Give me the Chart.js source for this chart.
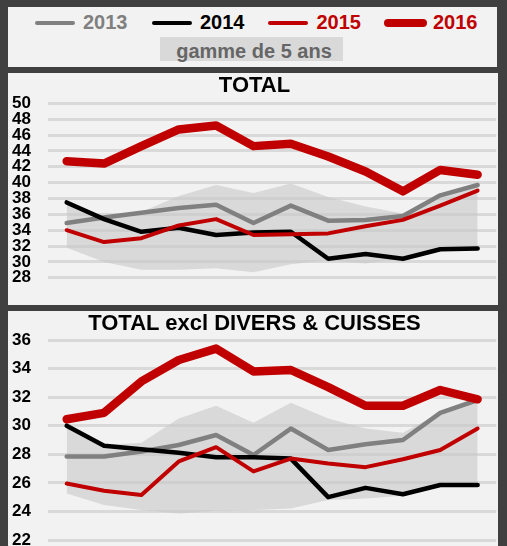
<!DOCTYPE html>
<html>
<head>
<meta charset="utf-8">
<script src="https://cdn.jsdelivr.net/npm/chart.js@4/dist/chart.umd.min.js"></script>
<style>
  html, body { margin:0; padding:0; }
  body { width:507px; height:546px; background:#404040; position:relative; overflow:hidden;
         font-family:"Liberation Sans", Arial, sans-serif; }
  .panel { position:absolute; left:8px; width:490px; background:#f2f2f2; overflow:hidden; }
  .lg-line { position:absolute; }
  .lg-text { position:absolute; font-weight:bold; font-size:20px; line-height:20px; white-space:nowrap; }
  .title { position:absolute; left:0; width:509px; text-align:center; font-weight:bold;
           font-size:22px; line-height:22px; color:#000; white-space:nowrap; }
  canvas { position:absolute; left:0; top:0; }
</style>
</head>
<body>
<div class="panel" id="legendPanel" style="top:7px;height:60px;left:8px;width:489px;"></div>
<div class="panel" style="top:73px;height:232px;"><canvas id="c1" width="490" height="232"></canvas></div>
<div class="panel" style="top:311px;height:260px;"><canvas id="c2" width="490" height="260"></canvas></div>
<div class="title" id="t1" style="top:74.4px;"></div>
<div class="title" id="t2" style="top:312.4px;"></div>
<div id="legend"></div>
<script>
// ---- data ----
const months = ["jan","fév","mar","avr","mai","juin","juil","août","sep","oct","nov","déc"];
const seriesNames = ["2013","2014","2015","2016"];
const rangeLabel = "gamme de 5 ans";
const title1 = "TOTAL";
const title2 = "TOTAL excl DIVERS & CUISSES";

// TOTAL
const total2013 = [34.9, 35.6, 36.2, 36.8, 37.2, 34.9, 37.1, 35.2, 35.3, 35.8, 38.4, 39.7];
const total2014 = [37.5, 35.4, 33.8, 34.3, 33.4, 33.7, 33.8, 30.4, 31.0, 30.4, 31.6, 31.7];
const total2015 = [34.0, 32.5, 33.0, 34.6, 35.4, 33.4, 33.5, 33.6, 34.5, 35.3, 37.1, 39.0];
const total2016 = [42.7, 42.4, 44.6, 46.7, 47.2, 44.6, 44.9, 43.3, 41.4, 38.9, 41.6, 41.0];
const totalRangeHigh = [37.5, 35.6, 36.3, 38.3, 39.7, 38.7, 39.9, 38.2, 37.0, 36.1, 38.4, 39.7];
const totalRangeLow  = [31.8, 30.0, 29.0, 29.0, 29.2, 28.7, 29.7, 30.2, 29.8, 30.4, 31.6, 31.7];
const totalTicks = {min:28, max:50, step:2};

// TOTAL excl DIVERS & CUISSES
const excl2013 = [27.85, 27.85, 28.2, 28.65, 29.35, 27.95, 29.8, 28.3, 28.7, 29.0, 30.9, 31.8];
const excl2014 = [30.0, 28.6, 28.35, 28.1, 27.8, 27.8, 27.7, 25.0, 25.65, 25.2, 25.85, 25.85];
const excl2015 = [25.95, 25.45, 25.15, 27.5, 28.5, 26.8, 27.7, 27.35, 27.1, 27.65, 28.3, 29.8];
const excl2016 = [30.45, 30.9, 33.1, 34.6, 35.4, 33.8, 33.9, 32.7, 31.4, 31.4, 32.5, 31.85];
const exclRangeHigh = [30.05, 28.65, 28.8, 30.5, 31.4, 30.2, 31.6, 30.5, 29.8, 29.5, 30.9, 31.9];
const exclRangeLow  = [25.25, 24.45, 24.1, 23.85, 24.05, 24.1, 24.2, 24.8, 24.9, 25.1, 25.85, 25.85];
const exclTicks = {min:22, max:36, step:2};

// ---- styles ----
const colors = ["#808080", "#000000", "#c00000", "#c00000"];
const widths = [4.5, 4.5, 4, 8.5];
const orders = [4, 3, 2, 1];
const bandColor = "rgba(200,200,200,0.6)";

document.getElementById('t1').textContent = title1;
document.getElementById('t2').textContent = title2;

// ---- legend (HTML) ----
const legend = document.getElementById('legend');
const lgPos = [
  {lx:35, lw:40, tx:83},
  {lx:152, lw:40, tx:200},
  {lx:268, lw:40, tx:316.5},
  {lx:384, lw:43, tx:433}
];
seriesNames.forEach((n, i) => {
  const l = document.createElement('div');
  l.className = 'lg-line';
  const h = i === 3 ? 8 : 4;
  l.style.cssText = `left:${lgPos[i].lx}px;top:${22.7 - h/2}px;width:${lgPos[i].lw}px;height:${h}px;border-radius:${h/2}px;background:${colors[i]};`;
  legend.appendChild(l);
  const t = document.createElement('div');
  t.className = 'lg-text';
  t.style.cssText = `left:${lgPos[i].tx}px;top:12.4px;color:${colors[i]};`;
  t.textContent = n;
  legend.appendChild(t);
});
const box = document.createElement('div');
box.style.cssText = "position:absolute;left:160px;top:37px;width:183px;height:24px;background:#d9d9d9;";
legend.appendChild(box);
const bt = document.createElement('div');
bt.className = 'lg-text';
bt.style.cssText = "left:160px;width:188px;text-align:center;top:40.5px;color:#666666;";
bt.textContent = rangeLabel;
legend.appendChild(bt);

// ---- charts ----
function makeChart(id, series, high, low, ticks, pad) {
  const datasets = series.map((d, i) => ({
    label: seriesNames[i], data: d,
    borderColor: colors[i], backgroundColor: colors[i],
    borderWidth: widths[i], pointRadius: 0, tension: 0, fill: false,
    borderCapStyle: 'round', borderJoinStyle: 'round', order: orders[i]
  }));
  datasets.push({ label: rangeLabel + ' max', data: high, borderWidth: 0, borderColor: 'rgba(0,0,0,0)',
    pointRadius: 0, backgroundColor: bandColor, fill: '+1', order: 10, tension: 0 });
  datasets.push({ label: rangeLabel + ' min', data: low, borderWidth: 0, borderColor: 'rgba(0,0,0,0)',
    pointRadius: 0, backgroundColor: bandColor, fill: false, order: 11, tension: 0 });
  return new Chart(document.getElementById(id), {
    type: 'line',
    data: { labels: months, datasets },
    options: {
      responsive: false, animation: false, devicePixelRatio: 1,
      layout: { padding: { top: pad.top, bottom: pad.bottom, left: 0, right: 1.7 } },
      plugins: { legend: { display: false }, tooltip: { enabled: false }, title: { display: false } },
      scales: {
        x: { type: 'category', offset: true, display: false },
        y: {
          min: ticks.min, max: ticks.max,
          afterFit: (s) => { s.width = 40; },
          border: { display: false },
          grid: { color: '#d9d9d9', lineWidth: 3, drawTicks: false },
          ticks: { stepSize: ticks.step, autoSkip: false, padding: 17, color: '#000',
                   font: { family: '"Liberation Sans", Arial, sans-serif', weight: 'bold', size: 17 } }
        }
      }
    }
  });
}
makeChart('c1', [total2013, total2014, total2015, total2016], totalRangeHigh, totalRangeLow, totalTicks, {top:30.3, bottom:12.7});
makeChart('c2', [excl2013, excl2014, excl2015, excl2016], exclRangeHigh, exclRangeLow, exclTicks, {top:29, bottom:31});
</script>
</body>
</html>
